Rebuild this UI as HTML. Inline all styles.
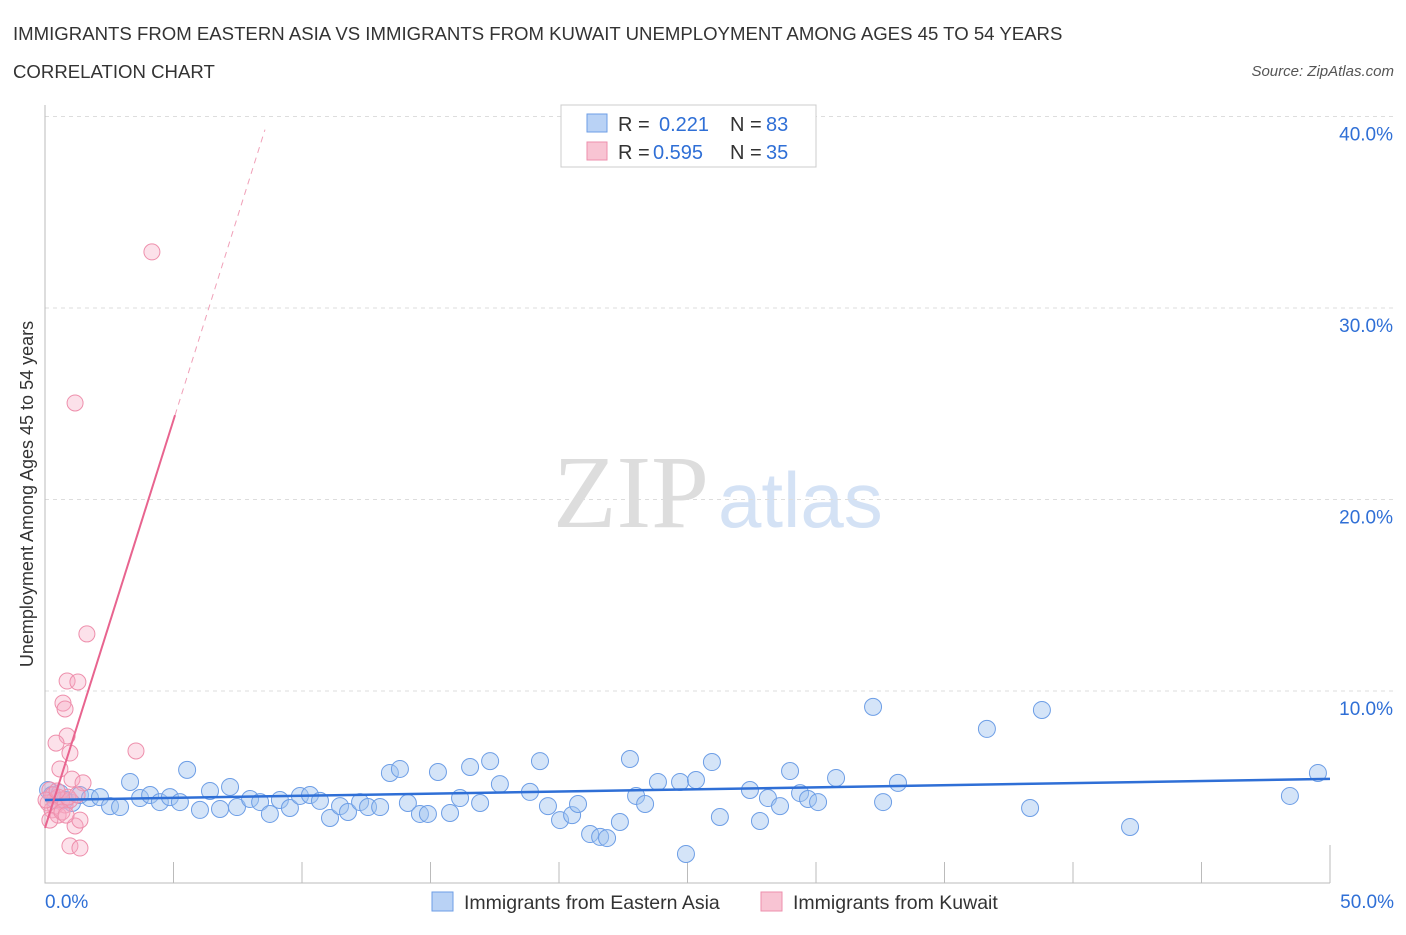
<!DOCTYPE html>
<html><head><meta charset="utf-8"><style>
body{margin:0;background:#fff;font-family:"Liberation Sans",sans-serif;}
</style></head><body>
<svg id="chart" width="1406" height="930" viewBox="0 0 1406 930" xmlns="http://www.w3.org/2000/svg">
<text x="13" y="40" font-size="18.6" fill="#333">IMMIGRANTS FROM EASTERN ASIA VS IMMIGRANTS FROM KUWAIT UNEMPLOYMENT AMONG AGES 45 TO 54 YEARS</text>
<text x="13" y="78" font-size="18.6" fill="#333">CORRELATION CHART</text>
<text x="1394" y="76" font-size="15" fill="#555" font-style="italic" text-anchor="end">Source: ZipAtlas.com</text>
<text x="553" y="527" font-size="104" fill="#ddd" font-family="Liberation Serif,serif">ZIP</text>
<text x="718" y="527" font-size="78" fill="#d4e2f5">atlas</text>
<text transform="translate(33,494) rotate(-90)" font-size="18" fill="#333" text-anchor="middle">Unemployment Among Ages 45 to 54 years</text>
<g id="grid"></g><g id="marks"></g>
<g>
<rect x="561" y="105" width="255" height="62" fill="#fff" stroke="#ccc"/>
<rect x="587" y="114" width="20" height="18" fill="#b9d2f5" stroke="#6d9ee6"/>
<rect x="587" y="142" width="20" height="18" fill="#f8c4d3" stroke="#ee8fac"/>
<text x="618" y="131" font-size="20" fill="#333">R =</text>
<text x="659" y="131" font-size="20" fill="#2f6fd6">0.221</text>
<text x="730" y="131" font-size="20" fill="#333">N =</text>
<text x="766" y="131" font-size="20" fill="#2f6fd6">83</text>
<text x="618" y="159" font-size="20" fill="#333">R =</text>
<text x="653" y="159" font-size="20" fill="#2f6fd6">0.595</text>
<text x="730" y="159" font-size="20" fill="#333">N =</text>
<text x="766" y="159" font-size="20" fill="#2f6fd6">35</text>
</g>
<g>
<rect x="432" y="892" width="21" height="19" fill="#b9d2f5" stroke="#6d9ee6"/>
<text x="464" y="909" font-size="19.5" fill="#333">Immigrants from Eastern Asia</text>
<rect x="761" y="892" width="21" height="19" fill="#f8c4d3" stroke="#ee8fac"/>
<text x="793" y="909" font-size="19.5" fill="#333">Immigrants from Kuwait</text>
</g>
</svg>
<script>
const blueX=[0.12,0.27,0.39,0.58,0.78,1.05,1.36,1.75,2.14,2.53,2.92,3.31,3.70,4.09,4.47,4.86,5.25,5.53,6.03,6.42,6.81,7.20,7.47,7.98,8.37,8.75,9.14,9.53,9.92,10.31,10.70,11.09,11.48,11.79,12.26,12.57,13.04,13.42,13.81,14.12,14.59,14.90,15.29,15.76,16.15,16.54,16.93,17.32,17.70,18.87,19.26,19.57,20.04,20.51,20.74,21.21,21.60,21.87,22.37,22.76,23.00,23.35,23.85,24.71,24.94,25.33,25.95,26.26,27.43,27.82,28.13,28.60,28.99,29.38,29.69,30.08,30.78,32.22,32.61,33.19,36.65,38.33,38.79,42.22,48.44,49.53];
const blueY=[4.83,4.57,4.31,4.67,4.31,4.15,4.57,4.41,4.46,3.99,3.94,5.25,4.41,4.57,4.20,4.46,4.20,5.88,3.79,4.78,3.84,4.99,3.94,4.36,4.20,3.58,4.31,3.89,4.52,4.57,4.26,3.37,3.99,3.68,4.20,3.94,3.94,5.72,5.93,4.15,3.58,3.58,5.77,3.63,4.41,6.03,4.15,6.34,5.14,4.73,6.34,3.99,3.26,3.52,4.10,2.53,2.38,2.32,3.16,6.45,4.52,4.10,5.25,5.25,1.49,5.35,6.29,3.42,4.83,3.21,4.41,3.99,5.82,4.67,4.36,4.20,5.46,9.17,4.20,5.20,8.02,3.89,9.01,2.90,4.52,5.72];
const pinkX=[4.16,1.17,1.63,0.86,1.28,0.70,0.78,0.86,0.43,0.97,3.54,0.58,1.05,1.48,0.19,0.31,0.51,0.66,0.12,0.39,0.78,0.97,0.27,0.51,0.19,1.17,1.36,0.97,1.36,0.66,0.89,0.04,0.47,0.82,1.25];
const pinkY=[32.93,25.04,12.98,10.52,10.47,9.37,9.06,7.65,7.28,6.76,6.87,5.93,5.40,5.20,4.83,4.57,4.46,4.31,4.15,3.99,4.05,4.31,3.79,3.52,3.26,2.95,3.26,1.91,1.80,3.68,4.46,4.31,4.78,3.52,4.57];
const blueTrend=[4.31,5.41];
const pinkTrend={b:2.85,m:4.26,solidEnd:5.06,dashEnd:8.56};
const yTicks=[10,20,30,40];
const xTickLabels=["0.0%","50.0%"];
const NS="http://www.w3.org/2000/svg";
const X=v=>45+v*25.7, Y=v=>882.5-v*19.15;
function mk(tag,attrs,parent){const e=document.createElementNS(NS,tag);for(const k in attrs)e.setAttribute(k,attrs[k]);parent.appendChild(e);return e;}
const grid=document.getElementById('grid'),marks=document.getElementById('marks');
yTicks.forEach(t=>{
 const l=mk('line',{x1:45,x2:1395,y1:Y(t),y2:Y(t),stroke:'#ddd','stroke-dasharray':'4,4'},grid);
 
 
 const tx=mk('text',{x:1393,y:Y(t)+24,'font-size':19,fill:'#2f6fd6','text-anchor':'end'},grid);tx.textContent=t.toFixed(1)+'%';
 
 
});
const ax=mk('path',{d:'M45,105V883H1330',stroke:'#bbb',fill:'none'},grid);


for(let i=1;i<=10;i++){const t=mk('line',{x1:X(i*5),x2:X(i*5),y1:883,y2:i==10?845:862,stroke:'#bbb'},grid);
 
 }
[[0,'start',45],[50,'end',1394]].forEach((a,i)=>{const t=mk('text',{x:a[2],y:908,'font-size':19,fill:'#2f6fd6','text-anchor':a[1]},grid);t.textContent=xTickLabels[i];
 
 });
blueX.forEach((x,i)=>{const c=mk('circle',{cx:X(x),cy:Y(blueY[i]),r:8.5,fill:'rgba(160,195,240,0.45)',stroke:'#6d9ee6','stroke-width':1},marks);
 
 });
pinkX.forEach((x,i)=>{const c=mk('circle',{cx:X(x),cy:Y(pinkY[i]),r:8,fill:'rgba(245,170,195,0.35)',stroke:'#ee8fac','stroke-width':1},marks);
 
 });
const bl=mk('line',{x1:X(0),y1:Y(blueTrend[0]),x2:X(50),y2:Y(blueTrend[1]),stroke:'#2f6fd6','stroke-width':2.5},marks);


const p=pinkTrend;
const pl=mk('line',{x1:X(0),y1:Y(p.b),x2:X(p.solidEnd),y2:Y(p.b+p.m*p.solidEnd),stroke:'#e8648f','stroke-width':2},marks);


const pd=mk('line',{x1:X(p.solidEnd),y1:Y(p.b+p.m*p.solidEnd),x2:X(p.dashEnd),y2:Y(p.b+p.m*p.dashEnd),stroke:'#f0a0b8','stroke-width':1,'stroke-dasharray':'6,5'},marks);


</script>
</body></html>
